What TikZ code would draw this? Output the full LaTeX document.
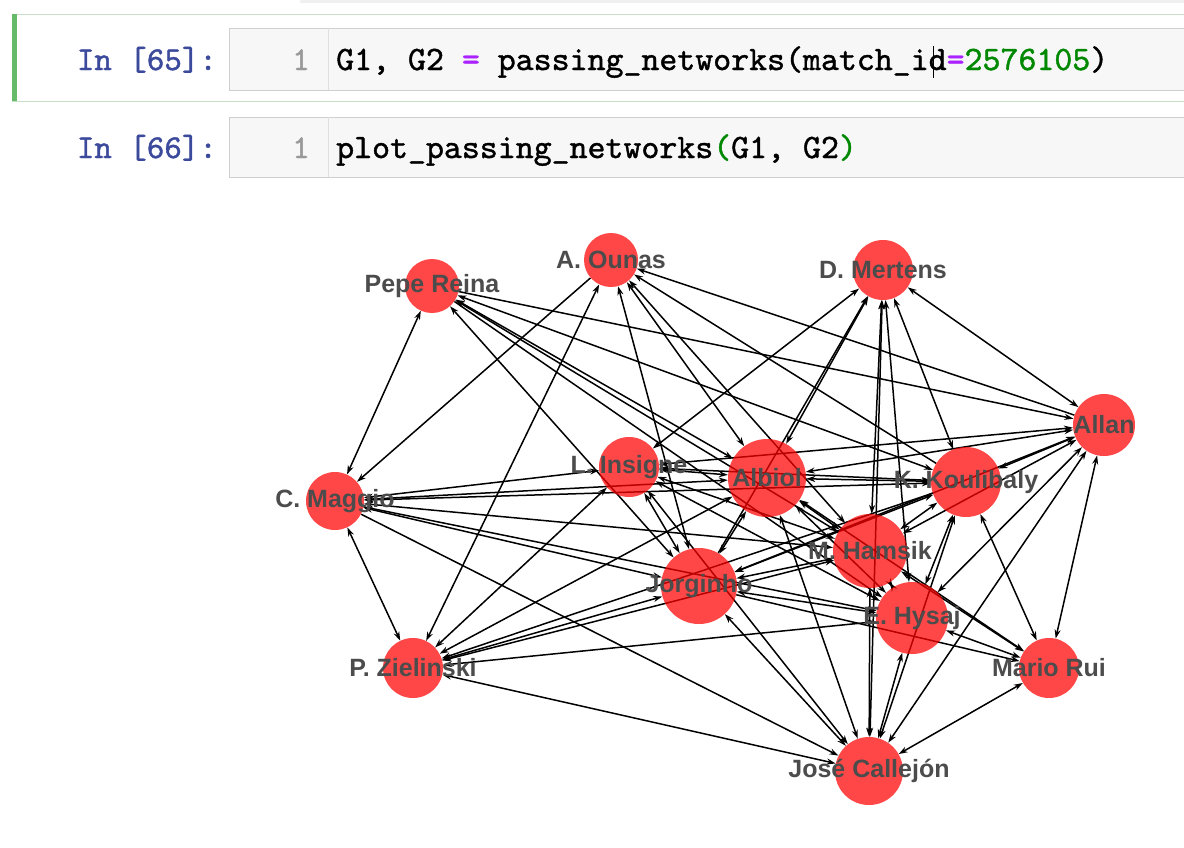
\documentclass[tikz,border=0pt]{standalone}
\usepackage{fontspec}
\usepackage{tikz}
\usetikzlibrary{arrows.meta,backgrounds}
\newfontfamily\codefont{lmmono10-regular.otf}[FakeBold=1.2]
\newfontfamily\labelfont{Liberation Sans}
\definecolor{prompt}{HTML}{3C4A9C}
\definecolor{cellgreen}{HTML}{66BB6A}
\definecolor{cellframe}{HTML}{C8E0C8}
\definecolor{cellborder}{HTML}{CFCFCF}
\definecolor{cellbg}{HTML}{F7F7F7}
\definecolor{operator}{HTML}{AA22FF}
\definecolor{number}{HTML}{008800}
\definecolor{gutter}{HTML}{999999}
\tikzset{
	every player/.style={
		circle,
		fill=red,
		fill opacity=0.72,
		inner sep=0pt
	},
	player name/.style={
		font=\labelfont\bfseries\fontsize{25}{25}\selectfont,
		text=black!70,
		inner sep=0pt
	},
	input area/.style={
		fill=cellbg,
		draw=cellborder,
		line width=1pt
	},
	prompt text/.style={
		font=\codefont\fontsize{33.3}{33.3}\selectfont,
		text=prompt,
		anchor=base east,
		inner sep=0pt
	},
	code text/.style={
		font=\codefont\fontsize{34.2}{34.2}\selectfont,
		anchor=base west,
		inner sep=0pt
	},
	pass one/.style={->, line width=1.5pt},
	pass both/.style={<->, line width=1.5pt},
}

\begin{document}
\begin{tikzpicture}[x=1pt, y=-1pt, >={Stealth[length=9pt,width=6pt]}]

\useasboundingbox (0,0) rectangle (1184,847);
\fill[gray!12] (300,0) rectangle (1184,3);

\draw[cellframe, line width=1pt] (12,14) rectangle (1192,101);
\fill[cellgreen] (12,14) rectangle (17,101);
\draw[input area] (229,28) rectangle (1192,90);
\draw[input area] (229,117) rectangle (1192,177);
\draw[gray!25, line width=1pt] (328,28) -- (328,90);
\draw[gray!25, line width=1pt] (328,117) -- (328,177);

\node[prompt text] (prompt-1) at (217,70) {In [65]:};
\node[prompt text] (prompt-2) at (217,158) {In [66]:};
\node[prompt text, text=gutter] (line-1) at (310,70) {1};
\node[prompt text, text=gutter] (line-2) at (310,158) {1};
\node[code text] (code-1) at (336,70)
	{G1, G2 \textcolor{operator}{=} passing\_networks(match\_id\textcolor{operator}{=}\textcolor{number}{2576105})};
\node[code text] (code-2) at (336,158)
	{plot\_passing\_networks\textcolor{number}{(}G1, G2\textcolor{number}{)}};
\draw[line width=1pt] (933,46) -- (933,78);

\foreach \n/\x/\y/\s in {reina/432/286/54, ounas/611/260/54, mertens/883/270/60,
		allan/1104/425/62, insigne/629/467/60, albiol/767/478/78,
		koulibaly/966/482/70, maggio/335/501/58, hamsik/870/551/74,
		jorginho/699/586/76, hysaj/912/618/72, rui/1049/668/60,
		zielinski/413/668/60, callejon/869/771/68}
	\node [every player/.try, minimum size=\s] (\n) at (\x,\y) {};

\begin{scope}[on background layer]
\foreach \a/\b in {reina/allan, reina/hysaj, ounas/maggio, koulibaly/ounas,
		allan/ounas, jorginho/mertens, koulibaly/zielinski, maggio/hysaj,
		maggio/callejon, jorginho/rui}
	\draw [pass one] (\a) -- (\b);

\foreach \a/\b in {reina/maggio, reina/jorginho, reina/albiol, reina/hamsik,
		reina/koulibaly, ounas/zielinski, ounas/albiol, ounas/jorginho,
		ounas/hamsik, mertens/allan, mertens/insigne, mertens/albiol,
		mertens/hamsik, mertens/callejon, mertens/hysaj, mertens/koulibaly,
		allan/koulibaly, allan/hamsik, allan/hysaj, allan/rui, allan/jorginho,
		allan/insigne, allan/albiol, allan/callejon, insigne/albiol,
		insigne/maggio, insigne/jorginho, insigne/hamsik, insigne/koulibaly,
		insigne/zielinski, insigne/callejon, insigne/hysaj, albiol/koulibaly,
		albiol/hamsik, albiol/jorginho, albiol/hysaj, albiol/callejon,
		albiol/maggio, albiol/zielinski, albiol/rui, koulibaly/hamsik,
		koulibaly/jorginho, koulibaly/hysaj, koulibaly/rui, koulibaly/maggio,
		koulibaly/callejon, maggio/jorginho, maggio/hamsik, maggio/zielinski,
		hamsik/jorginho, hamsik/hysaj, hamsik/callejon, hamsik/rui,
		hamsik/zielinski, jorginho/hysaj, jorginho/callejon, jorginho/zielinski,
		hysaj/rui, hysaj/callejon, hysaj/zielinski, callejon/rui,
		callejon/zielinski}
	\draw [pass both] (\a) -- (\b);
\end{scope}

\foreach \n/\l in {reina/Pepe Reina, ounas/A. Ounas, mertens/D. Mertens,
		allan/Allan, insigne/L. Insigne, albiol/Albiol, koulibaly/K. Koulibaly,
		maggio/C. Maggio, hamsik/M. Hamsik, jorginho/Jorginho, hysaj/E. Hysaj,
		rui/Mario Rui, zielinski/P. Zielinski, callejon/José Callejón}
	\node [player name] (name-\n) at (\n) {\l};

\end{tikzpicture}
\end{document}
